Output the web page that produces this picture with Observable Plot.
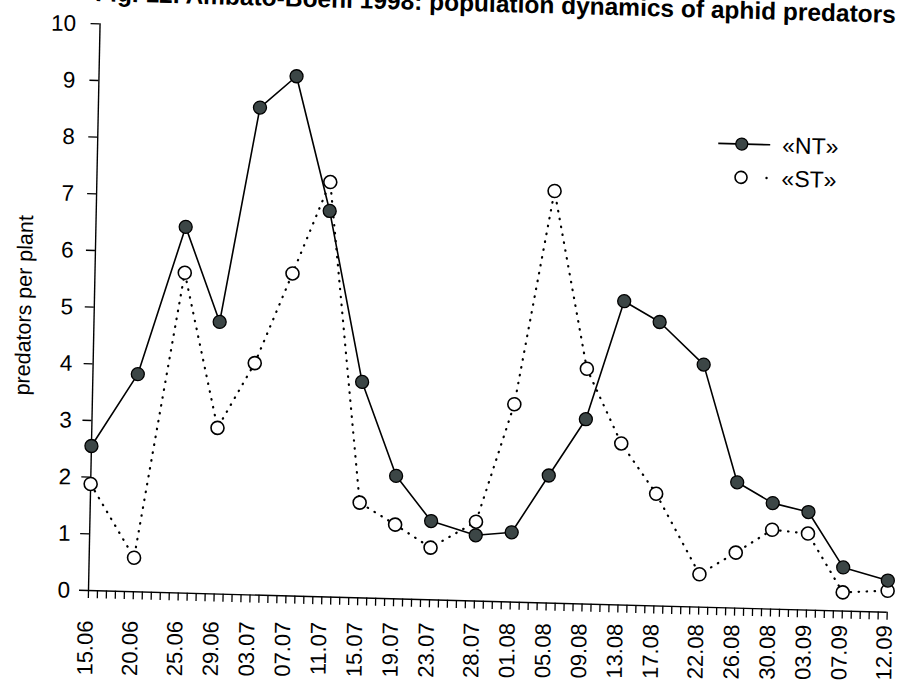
<!DOCTYPE html>
<html>
<head>
<meta charset="utf-8">
<script src="https://cdn.jsdelivr.net/npm/d3@7"></script>
<script src="https://cdn.jsdelivr.net/npm/@observablehq/plot@0.6"></script>
<style>
  html, body { margin: 0; padding: 0; background: #fff; overflow: hidden; }
  .layer {
    position: absolute; left: 0; top: 0; width: 897px; height: 686px;
    font-family: "Liberation Sans", Arial, sans-serif; color: #000;
    transform-origin: 88px 590px;
  }
  /* the printed figure sits slightly askew on the page; the lettering less so than the linework */
  #sheet { transform: matrix(0.99963, 0.02723, -0.02042, 0.99979, 0, 0); }
  #labels { transform: matrix(1, 0.006, -0.0106, 1, -2.5, 0); pointer-events: none; }
  #title {
    position: absolute; right: 13px; top: -19px;
    font-size: 24.5px; line-height: 24px; font-weight: bold; white-space: nowrap;
  }
  #legend { position: absolute; left: 0; top: 0; overflow: visible; }
</style>
</head>
<body>
<div id="sheet" class="layer">
  <div id="title">Fig. 12. Ambato-Boehi 1998: population dynamics of aphid predators</div>
  <div id="chart"></div>
  <svg id="legend" width="897" height="686"></svg>
</div>
<div id="labels" class="layer"></div>
<script>
// Sampling dates (dd.mm, season 1998)
const dates = ["15.06","20.06","25.06","29.06","03.07","07.07","11.07","15.07","19.07","23.07",
               "28.07","01.08","05.08","09.08","13.08","17.08","22.08","26.08","30.08","03.09",
               "07.09","12.09"];
// predators per plant, treatment «NT»
const nt = [2.55, 3.84, 6.46, 4.80, 8.60, 9.17, 6.81, 3.81, 2.17, 1.39,
            1.16, 1.23, 2.25, 3.26, 5.36, 5.01, 4.28, 2.22, 1.87, 1.73,
            0.77, 0.56];
// predators per plant, treatment «ST»
const st = [1.88, 0.60, 5.65, 2.93, 4.09, 5.69, 7.32, 1.68, 1.31, 0.92,
            1.40, 3.49, 7.27, 4.15, 2.85, 1.98, 0.58, 0.98, 1.40, 1.35,
            0.33, 0.38];
const yTicks = [0, 1, 2, 3, 4, 5, 6, 7, 8, 9, 10];
const yLabel = "predators per plant";
const seriesNames = ["«NT»", "«ST»"];

const parse = s => new Date(Date.UTC(1998, +s.slice(3, 5) - 1, +s.slice(0, 2)));
const table = dates.map((d, i) => ({date: parse(d), nt: nt[i], st: st[i]}));
const first = table[0].date, last = table[table.length - 1].date;
const days = d3.utcDay.range(first, d3.utcDay.offset(last, 1));
const fmt = d3.utcFormat("%d.%m");
const ntFill = "#3c4646";
const font = "'Liberation Sans', Arial, sans-serif";

// shared frame so both layers use identical scales
const frame = {
  width: 897, height: 686,
  marginLeft: 88, marginRight: 10, marginTop: 23.2, marginBottom: 96,
  x: {type: "utc", domain: [first, last]},
  y: {domain: [0, 10]}
};

const chart = Plot.plot({
  ...frame,
  style: {fontFamily: font, fontSize: "22px", color: "#000", background: "#fff", overflow: "visible"},
  marks: [
    // daily minor ticks along the date axis
    Plot.axisX({ticks: days, tickSize: 8, tickFormat: () => "", label: null, strokeWidth: 1.3}),
    Plot.axisY({ticks: yTicks, tickSize: 9, tickFormat: () => "", label: null, strokeWidth: 1.3}),
    Plot.text([yLabel], {frameAnchor: "left", textAnchor: "middle", rotate: -90, dx: -70, fontSize: 21.5}),
    Plot.ruleY([0], {strokeWidth: 1.4}),
    Plot.ruleX([first], {y1: 0, y2: 10, strokeWidth: 1.4}),
    Plot.line(table, {x: "date", y: "st", stroke: "#000", strokeWidth: 2.2,
                      strokeDasharray: "0.5,7.5", strokeLinecap: "round"}),
    Plot.line(table, {x: "date", y: "nt", stroke: "#000", strokeWidth: 1.6}),
    Plot.dot(table, {x: "date", y: "st", r: 6.5, fill: "#fff", stroke: "#000", strokeWidth: 1.6}),
    Plot.dot(table, {x: "date", y: "nt", r: 6.5, fill: ntFill, stroke: "#000", strokeWidth: 1.3})
  ]
});
document.getElementById("chart").appendChild(chart);

// tick labels of both axes
const tickLabels = Plot.plot({
  ...frame,
  style: {fontFamily: font, fontSize: "22px", color: "#000", background: "transparent", overflow: "visible"},
  marks: [
    Plot.axisX({ticks: table.map(d => d.date), tickSize: 0, tickPadding: 30, tickRotate: -90,
                tickFormat: fmt, label: null, fontSize: 22}),
    Plot.axisY({ticks: yTicks, tickSize: 0, tickPadding: 16, label: null, fontSize: 22.5})
  ]
});
document.getElementById("labels").appendChild(tickLabels);

// legend, upper right
const lg = d3.select("#legend");
const rows = [{y: 126.4, name: seriesNames[0]}, {y: 159.7, name: seriesNames[1]}];
lg.append("line").attr("x1", 709).attr("x2", 761).attr("y1", rows[0].y).attr("y2", rows[0].y)
  .attr("stroke", "#000").attr("stroke-width", 1.6);
lg.append("circle").attr("cx", 732.5).attr("cy", rows[0].y).attr("r", 6)
  .attr("fill", ntFill).attr("stroke", "#000").attr("stroke-width", 1.3);
lg.append("circle").attr("cx", 732.5).attr("cy", rows[1].y).attr("r", 6)
  .attr("fill", "#fff").attr("stroke", "#000").attr("stroke-width", 1.6);
lg.append("circle").attr("cx", 758).attr("cy", rows[1].y).attr("r", 1.2).attr("fill", "#000");
lg.selectAll("text.name").data(rows).join("text").attr("class", "name")
  .attr("x", 773).attr("y", d => d.y).attr("dy", "0.35em")
  .attr("font-family", font).attr("font-size", 23)
  .text(d => d.name);
</script>
</body>
</html>
